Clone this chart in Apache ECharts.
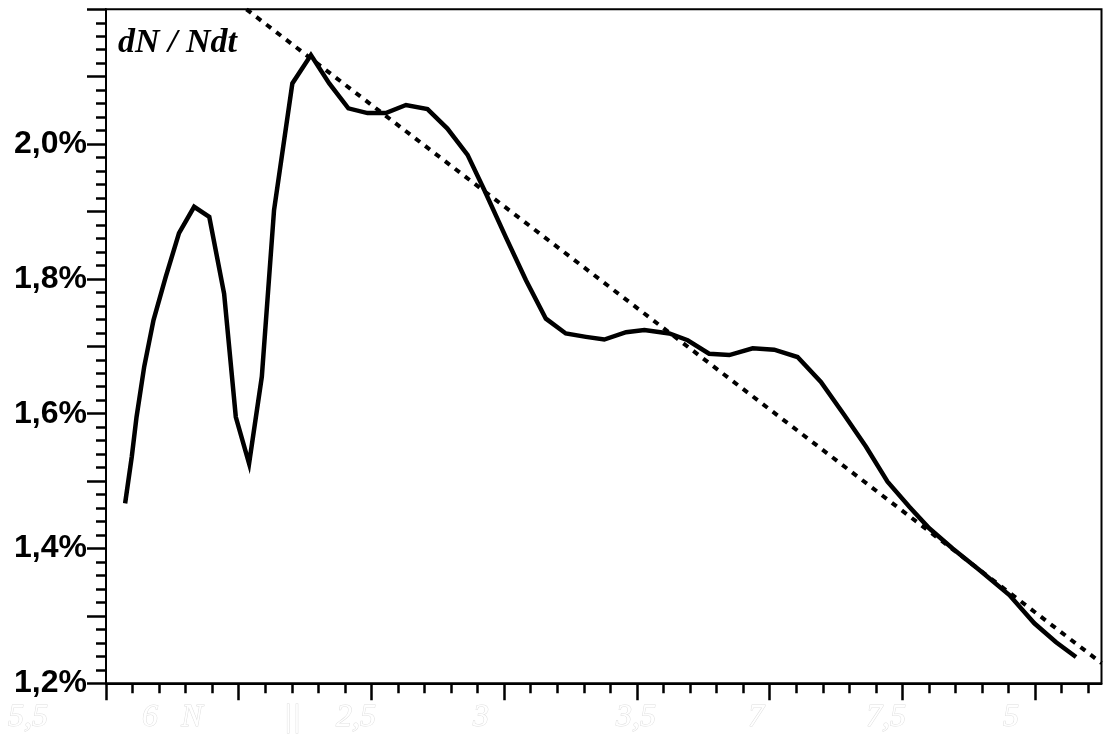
<!DOCTYPE html>
<html>
<head>
<meta charset="utf-8">
<script src="https://cdn.jsdelivr.net/npm/echarts@6/dist/echarts.min.js"></script>
<style>
html,body{margin:0;padding:0;background:#fff;}
#c{width:1103px;height:735px;}
</style>
</head>
<body>
<div id="c"></div>
<script>
// Population N (x) and relative growth rate dN/Ndt in % (y)
var popN = [1.572,1.597,1.615,1.644,1.679,1.725,1.775,1.832,1.889,1.945,1.989,2.039,2.087,2.133,2.202,2.272,2.341,2.413,2.485,2.554,2.630,2.711,2.786,2.862,2.925,3.006,3.082,3.157,3.232,3.308,3.377,3.459,3.528,3.622,3.691,3.772,3.848,3.936,4.017,4.105,4.193,4.281,4.363,4.444,4.526,4.601,4.689,4.790,4.903,4.997,5.079,5.154];
var growthRate = [1.467,1.536,1.595,1.670,1.739,1.803,1.868,1.907,1.892,1.778,1.595,1.526,1.655,1.902,2.090,2.132,2.090,2.053,2.046,2.046,2.058,2.052,2.023,1.984,1.932,1.862,1.798,1.741,1.719,1.714,1.710,1.721,1.724,1.719,1.709,1.689,1.687,1.697,1.695,1.684,1.647,1.598,1.551,1.499,1.462,1.430,1.400,1.368,1.331,1.289,1.261,1.239];
var trendN = [2.029, 5.25];
var trendRate = [2.2, 1.23];
var yLabelValues = [1.2, 1.4, 1.6, 1.8, 2.0];
var yLabelTexts = ['1,2%', '1,4%', '1,6%', '1,8%', '2,0%'];
var xMajorTicks = [1.5, 2, 2.5, 3, 3.5, 4, 4.5, 5];
var ghostLabels = ['5,5', '6', 'N', '||', '2,5', '3', '3,5', '7', '7,5', '5'];
var titleText = 'dN / Ndt';

var xMinorTicks = [];
for (var k = 0; k <= 37; k++) { xMinorTicks.push(Math.round((1.5 + k * 0.1) * 100) / 100); }

var mainData = popN.map(function (n, i) { return [n, growthRate[i]]; });
var trendData = trendN.map(function (n, i) { return [n, trendRate[i]]; });

var chart = echarts.init(document.getElementById('c'));
var ghostPos = [[28,718],[150,718],[192,718],[292,718],[356,718],[481,718],[636,718],[756,718],[886,718],[1011,718]];
var graphics = ghostLabels.map(function (t, i) {
  return {
    type: 'text', silent: true,
    style: {
      text: t, x: ghostPos[i][0], y: ghostPos[i][1],
      textAlign: 'center', textVerticalAlign: 'middle',
      font: 'italic 32px "Liberation Serif"',
      fill: '#ffffff', stroke: '#dedede', lineWidth: 1
    }
  };
});
graphics.push({
  type: 'text', silent: true, z: 100,
  style: {
    text: titleText, x: 118, y: 43,
    textAlign: 'left', textVerticalAlign: 'middle',
    font: 'bold italic 34px "Liberation Serif"',
    fill: '#000'
  }
});

chart.setOption({
  animation: false,
  backgroundColor: '#fff',
  grid: {
    left: 106, right: 1.5, top: 9.3, bottom: 51.7,
    show: true, borderColor: '#000', borderWidth: 2, backgroundColor: 'transparent'
  },
  xAxis: [{
    type: 'value', min: 1.5, max: 5.25, position: 'bottom',
    axisLine: { show: true, lineStyle: { color: '#000', width: 2 } },
    axisTick: { show: true, length: 17, lineStyle: { color: '#000', width: 2.5 }, customValues: xMajorTicks },
    axisLabel: { show: false },
    splitLine: { show: false }
  }, {
    type: 'value', min: 1.5, max: 5.25, position: 'bottom',
    axisLine: { show: false },
    axisTick: { show: true, length: 10, lineStyle: { color: '#000', width: 2.5 }, customValues: xMinorTicks },
    axisLabel: { show: false },
    splitLine: { show: false }
  }],
  yAxis: {
    type: 'value', min: 1.2, max: 2.2, interval: 0.1,
    axisLine: { show: true, lineStyle: { color: '#000', width: 2 } },
    axisTick: { show: true, length: 19, lineStyle: { color: '#000', width: 2.5 } },
    minorTick: { show: true, splitNumber: 5, length: 10, lineStyle: { color: '#000', width: 2.5 } },
    splitLine: { show: false },
    minorSplitLine: { show: false },
    axisLabel: {
      margin: 19,
      color: '#000',
      fontFamily: 'Liberation Sans', fontWeight: 'bold', fontSize: 32,
      formatter: function (v) {
        for (var i = 0; i < yLabelValues.length; i++) {
          if (Math.abs(yLabelValues[i] - v) < 1e-6) return yLabelTexts[i];
        }
        return '';
      }
    }
  },
  graphic: graphics,
  series: [{
    type: 'line', data: mainData, showSymbol: false, symbol: 'none',
    lineStyle: { color: '#000', width: 4.5, join: 'miter' }, z: 3
  }, {
    type: 'line', data: trendData, showSymbol: false, symbol: 'none',
    lineStyle: { color: '#000', width: 4, type: [6, 6.5] }, z: 2
  }]
});
</script>
</body>
</html>
